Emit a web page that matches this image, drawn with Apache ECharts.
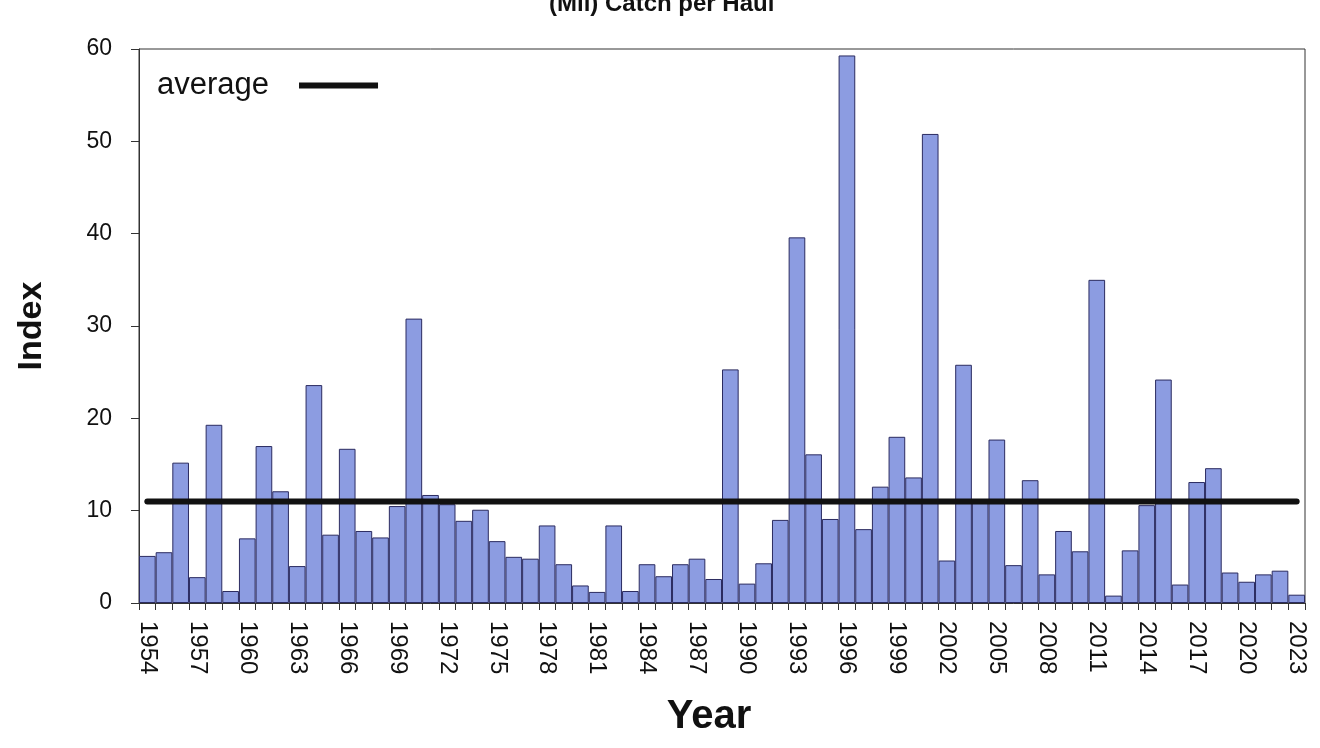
<!DOCTYPE html>
<html><head><meta charset="utf-8">
<script src="https://cdn.jsdelivr.net/npm/echarts@6/dist/echarts.min.js"></script>
<style>html,body{margin:0;padding:0;background:#fff}#chart{width:1320px;height:748px}</style>
</head><body><div id="chart"></div>
<script>
const years = ['1954','1955','1956','1957','1958','1959','1960','1961','1962','1963',
  '1964','1965','1966','1967','1968','1969','1970','1971','1972','1973',
  '1974','1975','1976','1977','1978','1979','1980','1981','1982','1983',
  '1984','1985','1986','1987','1988','1989','1990','1991','1992','1993',
  '1994','1995','1996','1997','1998','1999','2000','2001','2002','2003',
  '2004','2005','2006','2007','2008','2009','2010','2011','2012','2013',
  '2014','2015','2016','2017','2018','2019','2020','2021','2022','2023'];
const indexValues = [5.1,5.5,15.2,2.8,19.3,1.3,7.0,17.0,12.1,4.0,
  23.6,7.4,16.7,7.8,7.1,10.5,30.8,11.7,10.7,8.9,
  10.1,6.7,5.0,4.8,8.4,4.2,1.9,1.2,8.4,1.3,
  4.2,2.9,4.2,4.8,2.6,25.3,2.1,4.3,9.0,39.6,
  16.1,9.1,59.3,8.0,12.6,18.0,13.6,50.8,4.6,25.8,
  11.0,17.7,4.1,13.3,3.1,7.8,5.6,35.0,0.8,5.7,
  10.6,24.2,2.0,13.1,14.6,3.3,2.3,3.1,3.5,0.9];
const averageYears = ['1954','2023'];
const averageValues = [11.0, 11.0];
const titleText = '(Mil) Catch per Haul';
const xAxisName = 'Year';
const yAxisName = 'Index';
const legendName = 'average';

const FONT = "'Liberation Sans', Arial, sans-serif";
const chart = echarts.init(document.getElementById('chart'), null, {renderer:'canvas'});
chart.setOption({
  animation:false,
  backgroundColor:'#fff',
  title:{ text:titleText, left:544, top:-13,
    textStyle:{fontFamily:FONT, fontSize:24, fontWeight:'bold', color:'#111'}},
  legend:{ data:[{name:legendName, icon:'rect'}], left:152, top:65, align:'right',
    itemWidth:79, itemHeight:6,
    textStyle:{fontFamily:FONT, fontSize:31, color:'#111', padding:[0,25,0,0]}},
  grid:{left:139, right:15, top:49, bottom:145, show:true, borderColor:'#333', borderWidth:1},
  xAxis:{ type:'category', data:years, boundaryGap:true,
    name:xAxisName, nameLocation:'middle', nameGap:94,
    nameTextStyle:{fontFamily:FONT, fontSize:40, fontWeight:'bold', color:'#111', padding:[0,26,0,0]},
    axisLine:{lineStyle:{color:'#333', width:1}},
    axisTick:{show:true, interval:0, length:7, lineStyle:{color:'#333'}},
    axisLabel:{interval:2, rotate:-90, margin:18, fontFamily:FONT, fontSize:24, color:'#111'}},
  yAxis:{ type:'value', min:0, max:60, interval:10,
    name:yAxisName, nameLocation:'middle', nameGap:90, nameRotate:90,
    nameTextStyle:{fontFamily:FONT, fontSize:34, fontWeight:'bold', color:'#111'},
    axisLine:{show:true, lineStyle:{color:'#333', width:1}},
    axisTick:{show:true, length:8, lineStyle:{color:'#333'}},
    axisLabel:{margin:27, fontFamily:FONT, fontSize:23, color:'#111'},
    splitLine:{show:false}},
  series:[
    {type:'bar', name:'index', data:indexValues, barCategoryGap:'0%',
     itemStyle:{color:'#8C9CE1', borderColor:'#2b2b60', borderWidth:1}},
    {type:'line', name:legendName, data:averageYears.map((y,i)=>[y, averageValues[i]]),
     symbol:'none', lineStyle:{color:'#111', width:6, cap:'round'}, itemStyle:{color:'#111'}, z:5}
  ]
});
</script></body></html>
